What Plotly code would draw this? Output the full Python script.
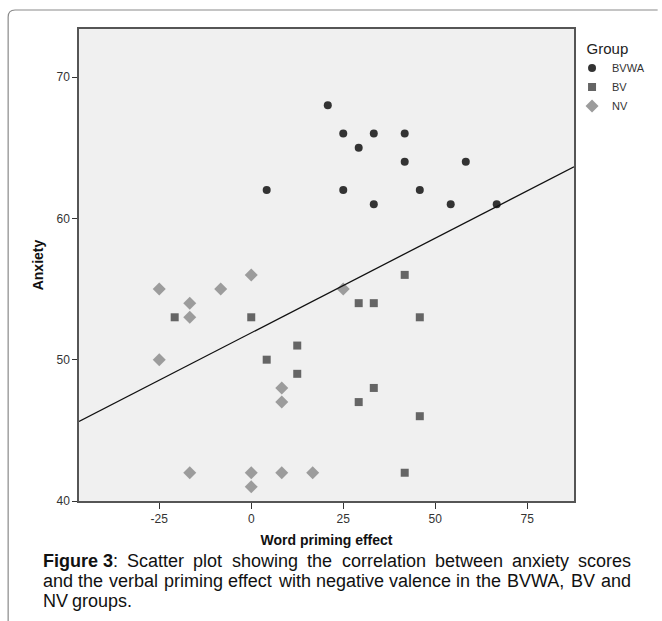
import numpy as np
import plotly.graph_objects as go

# ---------------- data ----------------
bvwa_x = [20.8, 25.0, 33.3, 41.7, 29.2, 41.7, 58.3, 4.2, 25.0, 45.8, 33.3, 54.2, 66.7]
bvwa_y = [68, 66, 66, 66, 65, 64, 64, 62, 62, 62, 61, 61, 61]

bv_x = [-20.8, 0.0, 4.2, 12.5, 12.5, 29.2, 33.3, 41.7, 45.8, 33.3, 29.2, 45.8, 41.7]
bv_y = [53, 53, 50, 51, 49, 54, 54, 56, 53, 48, 47, 46, 42]

nv_x = [-25.0, -16.7, -16.7, -8.3, 0.0, -25.0, 25.0, 8.3, 8.3, -16.7, 0.0, 0.0, 8.3, 16.7]
nv_y = [55, 54, 53, 55, 56, 50, 55, 48, 47, 42, 42, 41, 42, 42]

groups = ["BVWA", "BV", "NV"]
x_ticks = [-25, 0, 25, 50, 75]
x_tick_labels = ["-25", "0", "25", "50", "75"]
y_ticks = [40, 50, 60, 70]

# fit line (intercept, slope)
fit_intercept = 51.9
fit_slope = 0.134

caption_lines = [
    ["<b>Figure 3</b>:", "Scatter", "plot", "showing", "the", "correlation", "between", "anxiety", "scores"],
    ["and", "the", "verbal", "priming", "effect", "with", "negative", "valence", "in", "the", "BVWA,", "BV", "and"],
    ["NV", "groups."],
]

# ---------------- layout geometry ----------------
W, H = 662, 621
PL, PR, PT, PB = 79, 582, 29, 501   # plot area in pixels
x_range = [-46.8, 87.7]
y_range = [40, 73.4]

def px(xp):
    return (xp - PL) / (PR - PL)

def py(yp):
    return (PB - yp) / (PB - PT)

FONT = "Liberation Sans, Arial, sans-serif"

fig = go.Figure()

fig.add_trace(go.Scatter(
    x=bvwa_x, y=bvwa_y, mode="markers", name=groups[0],
    marker=dict(symbol="circle", size=8, color="#333333"),
))
fig.add_trace(go.Scatter(
    x=bv_x, y=bv_y, mode="markers", name=groups[1],
    marker=dict(symbol="square", size=8, color="#656565"),
))
fig.add_trace(go.Scatter(
    x=nv_x, y=nv_y, mode="markers", name=groups[2],
    marker=dict(symbol="diamond", size=10, color="#9c9c9c"),
))

lx = np.array(x_range)
fig.add_trace(go.Scatter(
    x=lx, y=fit_intercept + fit_slope * lx, mode="lines",
    line=dict(color="#111111", width=1.3), showlegend=False, hoverinfo="skip",
))

axis_common = dict(
    showgrid=False, zeroline=False, showline=True, mirror=True,
    linecolor="#555555", linewidth=1.5, ticks="outside", tickcolor="#333333",
    tickfont=dict(family=FONT, size=12, color="#333333"),
)

fig.update_xaxes(
    range=x_range, tickvals=x_ticks, ticktext=x_tick_labels, ticklen=6, **axis_common,
    title=dict(text="<b>Word priming effect</b>", standoff=10,
               font=dict(family=FONT, size=14, color="#111111")),
)
fig.update_yaxes(
    range=y_range, tickvals=y_ticks, ticklen=5, **axis_common,
    title=dict(text="<b>Anxiety</b>", standoff=10,
               font=dict(family=FONT, size=14, color="#111111")),
)

# ------------- caption, justified -------------
R = {'a':556,'b':556,'c':500,'d':556,'e':556,'f':278,'g':556,'h':556,'i':222,'l':222,
     'm':833,'n':556,'o':556,'p':556,'r':333,'s':500,'t':278,'u':556,'v':500,'w':722,
     'x':500,'y':500,' ':278,':':278,',':278,'.':278,'A':667,'B':667,'V':667,'W':944,
     'N':722,'S':667}
B = {'F':611,'i':278,'g':611,'u':611,'r':389,'e':556,' ':278,'3':556}
FS = 18

def word_width(w):
    if w.startswith("<b>"):
        inner = w[3:w.index("</b>")]
        rest = w[w.index("</b>") + 4:]
        return (sum(B[c] for c in inner) + sum(R[c] for c in rest)) * FS / 1000
    return sum(R[c] for c in w) * FS / 1000

cap_left, cap_right = 40, 637
cap_y = [561, 581, 601]
for li, words in enumerate(caption_lines):
    widths = [word_width(w) for w in words]
    if li < len(caption_lines) - 1:
        gap = (cap_right - cap_left - sum(widths)) / (len(words) - 1)
    else:
        gap = R[' '] * FS / 1000
    xcur = cap_left
    for w, ww in zip(words, widths):
        fig.add_annotation(
            x=px(xcur), y=py(cap_y[li]), xref="paper", yref="paper",
            text=w, showarrow=False, xanchor="left", yanchor="middle",
            font=dict(family=FONT, size=FS, color="#111111"),
        )
        xcur += ww + gap

# outer rounded frame (top-left corner, left and top edges)
r = 7
x0, y0 = 7, 10
path = (f"M {px(x0)},{py(H + 5)} L {px(x0)},{py(y0 + r)} "
        f"Q {px(x0)},{py(y0)} {px(x0 + r)},{py(y0)} L {px(W + 5)},{py(y0)}")
fig.add_shape(type="path", path=path, xref="paper", yref="paper",
              line=dict(color="#8a8a8a", width=1.2), layer="below")

fig.update_layout(
    width=W, height=H,
    margin=dict(l=PL, r=W - PR, t=PT, b=H - PB),
    paper_bgcolor="white", plot_bgcolor="#f0f0f0",
    font=dict(family=FONT, color="#222222"),
    legend=dict(
        x=px(580), y=py(34), xanchor="left", yanchor="top",
        title=dict(text="\u00a0\u00a0\u00a0Group", font=dict(size=15, color="#222222")),
        font=dict(size=11, color="#333333"),
        bgcolor="rgba(0,0,0,0)", tracegroupgap=0, itemwidth=30,
    ),
)

fig.write_html(
    "out.html",
    config={"displayModeBar": False},
    post_script="document.body.style.margin='0';document.body.style.overflow='hidden';",
)
